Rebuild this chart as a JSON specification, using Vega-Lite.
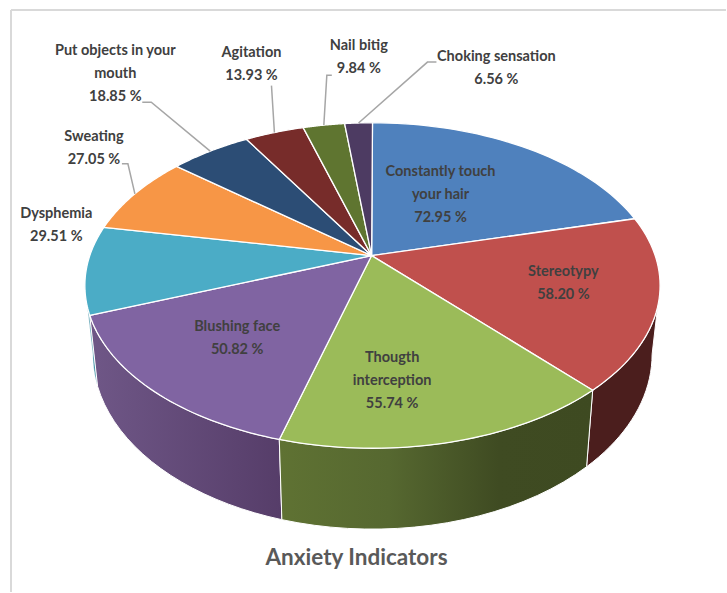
{
"$schema":"https://vega.github.io/schema/vega-lite/v6.json",
"width":727,"height":593,"padding":0,
"autosize":{"type":"fit","contains":"padding"},
"background":"white",
"view":{"stroke":null},
"data":{"values":[
{"name":"Constantly touch your hair","label":"Constantly touch|your hair","value":72.95},
{"name":"Stereotypy","label":"Stereotypy","value":58.20},
{"name":"Thougth interception","label":"Thougth|interception","value":55.74},
{"name":"Blushing face","label":"Blushing face","value":50.82},
{"name":"Dysphemia","label":"Dysphemia","value":29.51},
{"name":"Sweating","label":"Sweating","value":27.05},
{"name":"Put objects in your mouth","label":"Put objects in your|mouth","value":18.85},
{"name":"Agitation","label":"Agitation","value":13.93},
{"name":"Nail bitig","label":"Nail bitig","value":9.84},
{"name":"Choking sensation","label":"Choking sensation","value":6.56}
]},
"transform":[
{"joinaggregate":[{"op":"sum","field":"value","as":"total"}]},
{"window":[{"op":"sum","field":"value","as":"cum"}]},
{"calculate":"(datum.cum-datum.value)/datum.total*2*PI","as":"th0"},
{"calculate":"datum.cum/datum.total*2*PI","as":"th1"},
{"calculate":"datum.th0-0.192*sin(datum.th0)","as":"t0"},
{"calculate":"datum.th1-0.192*sin(datum.th1)","as":"t1"},
{"calculate":"(datum.th0+datum.th1)/2-0.192*sin((datum.th0+datum.th1)/2)","as":"tm"},
{"calculate":"max(datum.t0,PI/2)","as":"a0"},
{"calculate":"min(datum.t1,3*PI/2)","as":"a1"}
],
"layer":[
{"data":{"values":[{"k":1}]},"transform":[],"mark":{"type":"rule","stroke":"#d9d9d9","strokeWidth":2},
 "encoding":{"x":{"datum":-1.2569,"type":"quantitative","scale":{"domain":[-1.29514,1.22917],"nice":false,"zero":false},"axis":null},
 "y":{"datum":1.6933,"type":"quantitative","scale":{"domain":[-1.8834,1.7546],"nice":false,"zero":false},"axis":null},"y2":{"datum":-1.8834}}},
{"data":{"values":[{"k":1}]},"transform":[],"mark":{"type":"rule","stroke":"#d9d9d9","strokeWidth":2},
 "encoding":{"x":{"datum":-1.2569,"type":"quantitative","axis":null},"x2":{"datum":1.22917},
 "y":{"datum":1.6933,"type":"quantitative","axis":null}}},
{"transform":[{"filter":"datum.name=='Dysphemia'"},
 {"calculate":"sequence(0,43)","as":"s"},{"flatten":["s"]},
 {"calculate":"datum.s<=20?datum.a0+(datum.a1-datum.a0)*datum.s/20:(datum.s<=41?datum.a1-(datum.a1-datum.a0)*(datum.s-21)/20:datum.a0)","as":"a"},
 {"calculate":"datum.s>20&&datum.s<=41?0.97222*sin(datum.a):sin(datum.a)","as":"px"},
 {"calculate":"datum.s>20&&datum.s<=41?-0.4233+1.0736*cos(datum.a):cos(datum.a)","as":"py"}],
 "mark":{"type":"line","fill":"#3a8ea3","stroke":"#ffffff","strokeWidth":0.5},
 "encoding":{"x":{"field":"px","type":"quantitative","axis":null},"y":{"field":"py","type":"quantitative","axis":null},"order":{"field":"s"}}},
{"transform":[{"filter":"datum.name=='Blushing face'"},
 {"calculate":"sequence(0,43)","as":"s"},{"flatten":["s"]},
 {"calculate":"datum.s<=20?datum.a0+(datum.a1-datum.a0)*datum.s/20:(datum.s<=41?datum.a1-(datum.a1-datum.a0)*(datum.s-21)/20:datum.a0)","as":"a"},
 {"calculate":"datum.s>20&&datum.s<=41?0.97222*sin(datum.a):sin(datum.a)","as":"px"},
 {"calculate":"datum.s>20&&datum.s<=41?-0.4233+1.0736*cos(datum.a):cos(datum.a)","as":"py"}],
 "mark":{"type":"line","fill":{"gradient":"linear","x1":0,"x2":1,"y1":0,"y2":0,"stops":[{"offset":0,"color":"#6f5787"},{"offset":1,"color":"#563d69"}]},"stroke":"#ffffff","strokeWidth":1},
 "encoding":{"x":{"field":"px","type":"quantitative","axis":null},"y":{"field":"py","type":"quantitative","axis":null},"order":{"field":"s"}}},
{"transform":[{"filter":"datum.name=='Stereotypy'"},
 {"calculate":"sequence(0,43)","as":"s"},{"flatten":["s"]},
 {"calculate":"datum.s<=20?datum.a0+(datum.a1-datum.a0)*datum.s/20:(datum.s<=41?datum.a1-(datum.a1-datum.a0)*(datum.s-21)/20:datum.a0)","as":"a"},
 {"calculate":"datum.s>20&&datum.s<=41?0.97222*sin(datum.a):sin(datum.a)","as":"px"},
 {"calculate":"datum.s>20&&datum.s<=41?-0.4233+1.0736*cos(datum.a):cos(datum.a)","as":"py"}],
 "mark":{"type":"line","fill":"#4b1e1d","stroke":"#ffffff","strokeWidth":1},
 "encoding":{"x":{"field":"px","type":"quantitative","axis":null},"y":{"field":"py","type":"quantitative","axis":null},"order":{"field":"s"}}},
{"transform":[{"filter":"datum.name=='Thougth interception'"},
 {"calculate":"sequence(0,43)","as":"s"},{"flatten":["s"]},
 {"calculate":"datum.s<=20?datum.a0+(datum.a1-datum.a0)*datum.s/20:(datum.s<=41?datum.a1-(datum.a1-datum.a0)*(datum.s-21)/20:datum.a0)","as":"a"},
 {"calculate":"datum.s>20&&datum.s<=41?0.97222*sin(datum.a):sin(datum.a)","as":"px"},
 {"calculate":"datum.s>20&&datum.s<=41?-0.4233+1.0736*cos(datum.a):cos(datum.a)","as":"py"}],
 "mark":{"type":"line","fill":{"gradient":"linear","x1":0,"x2":1,"y1":0,"y2":0,"stops":[{"offset":0,"color":"#5f7233"},{"offset":0.35,"color":"#566830"},{"offset":0.7,"color":"#3f4b22"},{"offset":1,"color":"#3e4a21"}]},"stroke":"#ffffff","strokeWidth":1},
 "encoding":{"x":{"field":"px","type":"quantitative","axis":null},"y":{"field":"py","type":"quantitative","axis":null},"order":{"field":"s"}}},
{"transform":[
 {"calculate":"sequence(0,43)","as":"s"},{"flatten":["s"]},
 {"calculate":"datum.t0+(datum.t1-datum.t0)*(datum.s-1)/40","as":"a"},
 {"calculate":"datum.s==0||datum.s>=42?-0.003:sin(datum.a)","as":"px"},
 {"calculate":"datum.s==0||datum.s>=42?0.184:cos(datum.a)","as":"py"}],
 "mark":{"type":"line","stroke":"#ffffff","strokeWidth":1.3,"strokeJoin":"round"},
 "encoding":{"x":{"field":"px","type":"quantitative","axis":null},"y":{"field":"py","type":"quantitative","axis":null},"order":{"field":"s"},
 "fill":{"field":"name","type":"nominal","legend":null,"sort":null,
  "scale":{"domain":["Constantly touch your hair","Stereotypy","Thougth interception","Blushing face","Dysphemia","Sweating","Put objects in your mouth","Agitation","Nail bitig","Choking sensation"],
  "range":["#4f81bd","#c0504d","#9bbb59","#8064a2","#4bacc6","#f79646","#2c4d75","#772c2a","#5f7530","#4d3b62"]}}}},
{"transform":[
 {"filter":"indexof(['Sweating','Put objects in your mouth','Agitation','Nail bitig','Choking sensation'],datum.name)>=0"},
 {"calculate":"{'Sweating':[-13,-30,-7,-30],'Put objects in your mouth':[-68,-49,-59,-49],'Agitation':[-3,-47,-3,-47],'Nail bitig':[8,-50,3,-50],'Choking sensation':[78,-61,69,-61]}[datum.name]","as":"off"},
 {"calculate":"[0,1,2]","as":"s"},{"flatten":["s"]},
 {"calculate":"sin(datum.tm)+(datum.s==2?0:datum.off[datum.s*2])/288","as":"px"},
 {"calculate":"cos(datum.tm)-(datum.s==2?0:datum.off[datum.s*2+1])/163","as":"py"}],
 "mark":{"type":"line","stroke":"#a6a6a6","strokeWidth":1.5},
 "encoding":{"x":{"field":"px","type":"quantitative","axis":null},"y":{"field":"py","type":"quantitative","axis":null},"order":{"field":"s"},"detail":{"field":"name"}}},
{"transform":[
 {"calculate":"{'Constantly touch your hair':[-82,25],'Stereotypy':[-95,-32],'Thougth interception':[-59,-84],'Blushing face':[85,-63.5],'Dysphemia':[-30,-56],'Sweating':[-41,-57],'Put objects in your mouth':[-95,-100],'Agitation':[-23,-80],'Nail bitig':[35,-79],'Choking sensation':[138,-66]}[datum.name]","as":"off"},
 {"calculate":"sin(datum.tm)+datum.off[0]/288","as":"px"},
 {"calculate":"cos(datum.tm)-datum.off[1]/163","as":"py"},
 {"calculate":"datum.label+'|'+format(datum.value,'.2f')+' %'","as":"txt"}],
 "mark":{"type":"text","font":"Lato","fontWeight":"bold","fontSize":14.5,"lineBreak":"|","lineHeight":23,"align":"center","baseline":"middle","fill":"#404040"},
 "encoding":{"x":{"field":"px","type":"quantitative","axis":null},"y":{"field":"py","type":"quantitative","axis":null},"text":{"field":"txt"}}},
{"data":{"values":[{"title":"Anxiety Indicators"}]},"transform":[],
 "mark":{"type":"text","font":"Lato","fontWeight":"bold","fontSize":22.5,"align":"center","baseline":"middle","fill":"#595959"},
 "encoding":{"x":{"datum":-0.0556,"type":"quantitative","axis":null},"y":{"datum":-1.675,"type":"quantitative","axis":null},"text":{"field":"title"}}}
]
}
